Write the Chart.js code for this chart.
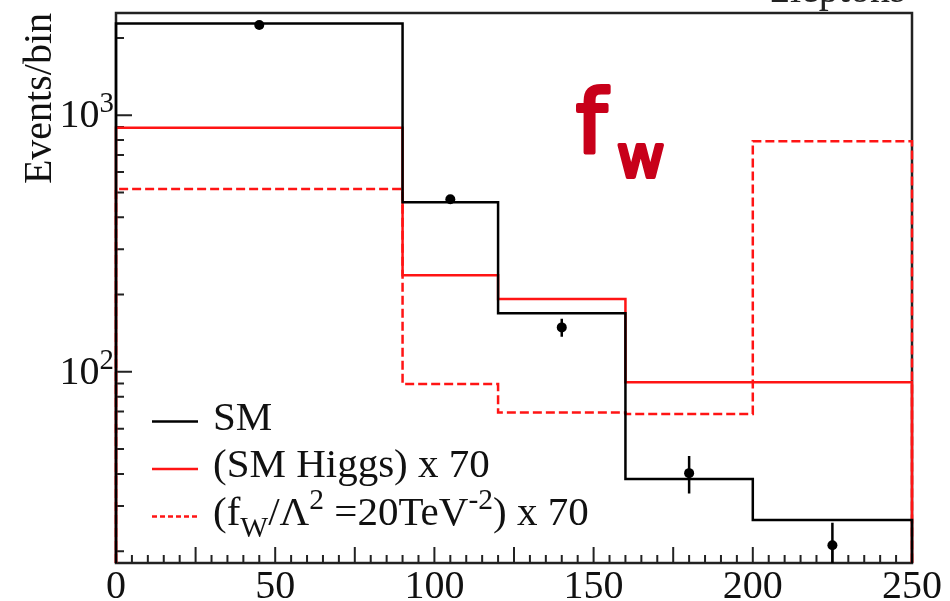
<!DOCTYPE html>
<html>
<head>
<meta charset="utf-8">
<script src="https://cdn.jsdelivr.net/npm/chart.js@4.4.0/dist/chart.umd.min.js"></script>
<style>
  html, body { margin: 0; padding: 0; background: #fff; }
  #wrap { width: 950px; height: 601px; }
</style>
</head>
<body>
<div id="wrap"><canvas id="myChart" width="950" height="601"></canvas></div>
<script>
// bin edges (GeV) shared by all three histograms
const binEdges = [0, 90, 120, 160, 200, 250]
const smEvents = [2275, 458, 169, 38.2, 26.5]
const higgsEvents = [893, 238, 192, 91, 91]
const fwEvents = [515, 89.6, 69.5, 68.5, 792]

// data points with symmetric errors
const dataX = [45, 105, 140, 180, 225]
const dataY = [2245, 470, 149, 40.3, 21.1]
const dataErr = [0, 0, 12, 6.7, 4.7]

const xTickLabels = [0, 50, 100, 150, 200, 250]
const yTickLabels = [100, 1000]
const yMinorTicks = [20, 30, 40, 50, 60, 70, 80, 90, 200, 300, 400, 500, 600, 700, 800, 900, 2000]

const Y_MIN = 18
const Y_MAX = 2500
const SERIF = '"Liberation Serif", "Times New Roman", serif'
const RED = "#ff1414"
const LW = 2.5

// closed step outline: start and end on the axis floor
function histPoints(values) {
  const pts = [{ x: binEdges[0], y: Y_MIN }]
  values.forEach((v, i) => pts.push({ x: binEdges[i], y: v }))
  pts.push({ x: binEdges[binEdges.length - 1], y: values[values.length - 1] })
  pts.push({ x: binEdges[binEdges.length - 1], y: Y_MIN })
  return pts
}

// text with _{sub} and ^{sup} pieces
function drawRich(ctx, text, x, y, size) {
  const parts = text.split(/([_^]\{[^}]*\})/).filter(Boolean)
  for (const p of parts) {
    let s = p, fs = size, dy = 0
    if (p[0] === "_") { s = p.slice(2, -1); fs = size * 0.72; dy = size * 0.3 }
    else if (p[0] === "^") { s = p.slice(2, -1); fs = size * 0.72; dy = -size * 0.38 }
    ctx.font = `${fs}px ${SERIF}`
    ctx.fillText(s, x, y + dy)
    x += ctx.measureText(s).width
  }
  return x
}

const framePlugin = {
  id: "frame",
  beforeDatasetsDraw(chart) {
    const { ctx, chartArea: a, scales } = chart
    const xs = scales.x, ys = scales.y
    ctx.save()
    ctx.strokeStyle = "#222"
    ctx.lineWidth = 2.5
    ctx.strokeRect(a.left, a.top, a.right - a.left, a.bottom - a.top)
    ctx.lineWidth = 2
    ctx.beginPath()
    for (let v = 0; v <= 250; v += 5) {
      const px = xs.getPixelForValue(v)
      const len = v % 25 === 0 ? 16 : 8
      ctx.moveTo(px, a.bottom)
      ctx.lineTo(px, a.bottom - len)
    }
    yTickLabels.forEach((v) => {
      const py = ys.getPixelForValue(v)
      ctx.moveTo(a.left, py)
      ctx.lineTo(a.left + 16, py)
    })
    yMinorTicks.forEach((v) => {
      const py = ys.getPixelForValue(v)
      ctx.moveTo(a.left, py)
      ctx.lineTo(a.left + 8, py)
    })
    ctx.stroke()

    // 10^n labels
    ctx.fillStyle = "#111"
    ctx.textBaseline = "alphabetic"
    ctx.textAlign = "left"
    yTickLabels.forEach((v) => {
      const py = ys.getPixelForValue(v)
      const txt = `10^{${Math.round(Math.log10(v))}}`
      ctx.font = `40px ${SERIF}`
      const w = ctx.measureText("10").width
      ctx.font = `${40 * 0.72}px ${SERIF}`
      const w2 = ctx.measureText("3").width
      drawRich(ctx, txt, a.left - 2 - w - w2, py + 12, 40)
    })
    ctx.restore()
  },
  afterDatasetsDraw(chart) {
    const { ctx, chartArea: a, scales } = chart
    const ys = scales.y, xs = scales.x
    ctx.save()
    ctx.beginPath()
    ctx.rect(a.left, a.top, a.right - a.left, a.bottom - a.top)
    ctx.clip()
    ctx.strokeStyle = "#000"
    ctx.lineWidth = LW
    ctx.beginPath()
    dataX.forEach((x, i) => {
      if (!dataErr[i]) return
      const px = xs.getPixelForValue(x)
      ctx.moveTo(px, ys.getPixelForValue(Math.max(dataY[i] - dataErr[i], Y_MIN * 0.5)))
      ctx.lineTo(px, ys.getPixelForValue(dataY[i] + dataErr[i]))
    })
    ctx.stroke()
    ctx.restore()
  },
  afterDraw(chart) {
    const { ctx } = chart
    ctx.save()
    // legend
    let rowY = 421.5
    chart.data.datasets.forEach((ds) => {
      if (!ds.legendText) return
      ctx.strokeStyle = ds.borderColor
      ctx.lineWidth = LW
      ctx.setLineDash(ds.borderDash ? [5, 3] : [])
      ctx.beginPath()
      ctx.moveTo(152, rowY)
      ctx.lineTo(198, rowY)
      ctx.stroke()
      ctx.setLineDash([])
      ctx.fillStyle = "#111"
      ctx.textBaseline = "alphabetic"
      ctx.textAlign = "left"
      drawRich(ctx, ds.legendText, 213, rowY + 8, 41)
      rowY += 47.5
    })

    // channel label, mostly cut by the top edge
    ctx.fillStyle = "#222"
    ctx.font = `40px ${SERIF}`
    ctx.fillText("2leptons", 770, 2)

    // coupling tag, stroked for a marker look
    ctx.fillStyle = "#c8001a"
    ctx.strokeStyle = "#c8001a"
    ctx.lineWidth = 4
    ctx.lineJoin = "round"
    ctx.lineCap = "round"
    ctx.font = `88px "DejaVu Sans"`
    ctx.fillText("f", 576, 152)
    ctx.strokeText("f", 576, 152)
    ctx.font = `58px "DejaVu Sans"`
    ctx.fillText("w", 617, 177)
    ctx.strokeText("w", 617, 177)
    ctx.restore()
  },
}

const ctx = document.getElementById("myChart").getContext("2d")
const config = {
  type: "line",
  data: {
    datasets: [
      {
        label: "SM",
        legendText: "SM",
        data: histPoints(smEvents),
        borderColor: "#000",
        borderWidth: LW,
        stepped: "before",
        pointRadius: 0,
        fill: false,
        clip: false,
      },
      {
        label: "SM Higgs x 70",
        legendText: "(SM Higgs) x 70",
        data: histPoints(higgsEvents),
        borderColor: RED,
        borderWidth: LW,
        stepped: "before",
        pointRadius: 0,
        fill: false,
        clip: false,
      },
      {
        label: "fW x 70",
        legendText: "(f_{W}/\u039B^{2} =20TeV^{-2}) x 70",
        data: histPoints(fwEvents),
        borderColor: RED,
        borderWidth: LW,
        borderDash: [9, 4],
        stepped: "before",
        pointRadius: 0,
        fill: false,
        clip: false,
      },
      {
        type: "scatter",
        label: "Data",
        data: dataX.map((x, i) => ({ x, y: dataY[i] })),
        pointRadius: 5,
        backgroundColor: "#000",
        borderWidth: 0,
        showLine: false,
      },
    ],
  },
  options: {
    responsive: false,
    animation: false,
    devicePixelRatio: 1,
    layout: { padding: { top: 13, right: 38, left: 0, bottom: 0 } },
    plugins: { legend: { display: false }, tooltip: { enabled: false } },
    scales: {
      x: {
        type: "linear",
        min: 0,
        max: 250,
        grid: { display: false, drawTicks: false },
        border: { display: false },
        afterBuildTicks: (s) => { s.ticks = xTickLabels.map((v) => ({ value: v })) },
        ticks: {
          padding: 0,
          color: "#111",
          maxRotation: 0,
          autoSkip: false,
          font: { family: SERIF, size: 40 },
        },
        afterFit: (s) => { s.height = 38 },
      },
      y: {
        type: "logarithmic",
        min: Y_MIN,
        max: Y_MAX,
        grid: { display: false, drawTicks: false },
        border: { display: false },
        ticks: { display: false },
        title: {
          display: true,
          text: "Events/bin",
          align: "end",
          color: "#111",
          padding: { top: 16, bottom: 0 },
          font: { family: SERIF, size: 40 },
        },
        afterFit: (s) => { s.width = 116 },
      },
    },
  },
  plugins: [framePlugin],
}
new Chart(ctx, config)
</script>
</body>
</html>
